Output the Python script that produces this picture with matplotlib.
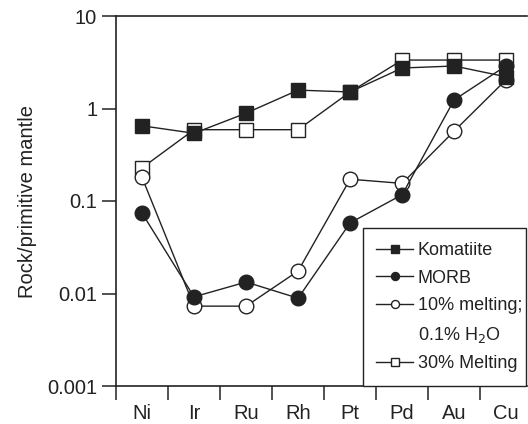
import numpy as np
import matplotlib.pyplot as plt
from matplotlib.lines import Line2D
from matplotlib.patches import Rectangle

plt.rcParams['font.family'] = ['Liberation Sans', 'DejaVu Sans']

elements = ["Ni", "Ir", "Ru", "Rh", "Pt", "Pd", "Au", "Cu"]
komatiite = [0.65, 0.54, 0.89, 1.58, 1.51, 2.74, 2.88, 2.2]
morb = [0.074, 0.0092, 0.0133, 0.0089, 0.058, 0.117, 1.24, 2.9]
melt10 = [0.18, 0.0073, 0.0073, 0.0175, 0.172, 0.155, 0.57, 2.05]
melt30 = [0.228, 0.59, 0.59, 0.59, 1.51, 3.34, 3.34, 3.34]

ink = "#222222"
x = np.arange(len(elements))
W, H = 528, 424

fig = plt.figure(figsize=(W / 100, H / 100), dpi=100)
ax = fig.add_axes([116/W, 38/H, 411/W, 370/H])

ms = 10.5
l30, = ax.plot(x, melt30, color=ink, lw=1.0, marker="s", ms=ms, mfc="white", mec=ink,
               mew=1.0, zorder=2)
l10, = ax.plot(x, melt10, color=ink, lw=1.0, marker="o", ms=ms, mfc="white", mec=ink,
               mew=1.0, zorder=3)
lko, = ax.plot(x, komatiite, color=ink, lw=1.0, marker="s", ms=ms, mfc=ink, mec=ink,
               zorder=4)
lmo, = ax.plot(x, morb, color=ink, lw=1.0, marker="o", ms=ms, mfc=ink, mec=ink,
               zorder=5)

ax.set_yscale("log")
ax.set_ylim(0.001, 10)
ax.set_yticks([0.001, 0.01, 0.1, 1, 10])
ax.set_yticklabels(["0.001", "0.01", "0.1", "1", "10"])
ax.yaxis.set_minor_locator(plt.NullLocator())
ax.set_xlim(-0.5, 7.4)
ax.set_xticks(np.arange(-0.5, 7, 1.0))
ax.set_xticklabels([])
ax.set_xticks(x, minor=True)
ax.set_xticklabels(elements, minor=True)
ax.tick_params(axis="x", which="minor", length=0, pad=13, labelsize=14.5, colors=ink)
ax.tick_params(axis="both", which="major", direction="out", length=10, width=1.1,
               color=ink, labelsize=14.5, labelcolor=ink)
ax.set_ylabel("Rock/primitive mantle", fontsize=14.5, color=ink, labelpad=7)

ax.spines["right"].set_visible(False)
for s in ["left", "top", "bottom"]:
    ax.spines[s].set_linewidth(1.2)
    ax.spines[s].set_color(ink)

# legend without its own frame, then a box with uneven padding like the original
blank = Line2D([], [], linestyle="none")
leg = ax.legend([lko, lmo, l10, blank, l30],
                ["Komatiite", "MORB", "10% melting;", "0.1% H$_2$O", "30% Melting"],
                loc="lower right", bbox_to_anchor=(522 / W, (H - 372) / H),
                bbox_transform=fig.transFigure, borderaxespad=0, borderpad=0,
                fontsize=13, markerscale=0.55, handlelength=2.05, handletextpad=0.25,
                labelspacing=0.58, frameon=False)
leg.set_zorder(7)
for t in leg.get_texts():
    t.set_color(ink)

fig.canvas.draw()
bb = leg.get_window_extent()
pl, pr, pt, pb = 13, 4, 14, 14
box = Rectangle(((bb.x0 - pl) / W, (bb.y0 - pb) / H),
                (bb.width + pl + pr) / W, (bb.height + pt + pb) / H,
                transform=fig.transFigure, facecolor="white", edgecolor=ink,
                linewidth=1.0, zorder=6, clip_on=False)
ax.add_patch(box)

fig.savefig("out.png", dpi=100)
